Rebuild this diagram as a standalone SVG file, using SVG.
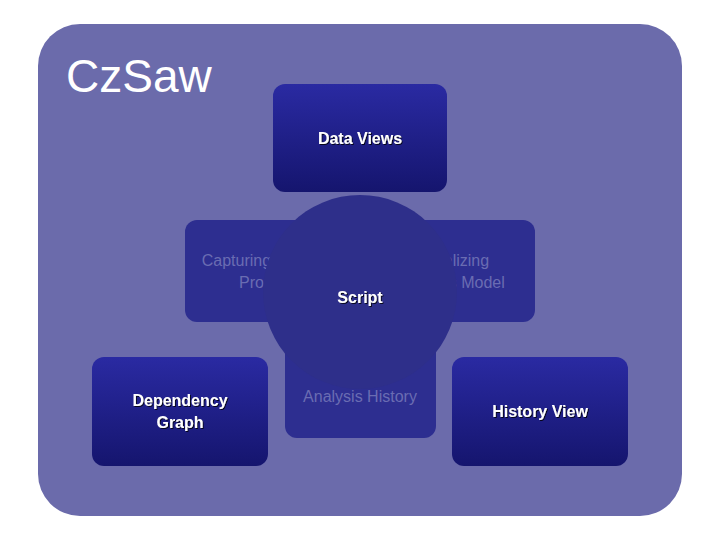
<svg xmlns="http://www.w3.org/2000/svg" width="720" height="540" viewBox="0 0 720 540">
<defs>
<linearGradient id="g" x1="0" y1="0" x2="0" y2="1"><stop offset="0" stop-color="#2a2aa2"/><stop offset="1" stop-color="#15156e"/></linearGradient>
<filter id="sh"><feDropShadow dx="1" dy="1" stdDeviation="0.6" flood-color="#000" flood-opacity="0.8"/></filter>
</defs>
<style>
.f{fill:url(#g)}
.b{fill:#2d2e90}
.t{font-family:"Liberation Sans",Arial,sans-serif;font-size:16px;font-weight:bold;fill:#fff;text-anchor:middle;filter:url(#sh)}
.d{font-family:"Liberation Sans",Arial,sans-serif;font-size:16px;fill:#6a6cb2;text-anchor:middle}
</style>
<rect width="720" height="540" fill="#fff"/>
<rect x="38" y="24" width="644" height="492" rx="42" fill="#6b6bab"/>
<text x="66" y="92" font-family="Liberation Sans,Arial,sans-serif" font-size="46" fill="#fff">Cz<tspan>Saw</tspan></text>
<g id="capturing"><rect class="b" x="185" y="220" width="175" height="102" rx="12"/><text class="d" x="268" y="266">Capturing Analysis</text><text class="d" x="268" y="288">Process</text></g>
<g id="visualizing"><rect class="b" x="360" y="220" width="175" height="102" rx="12"/><text class="d" x="451" y="266">Visualizing</text><text class="d" x="451" y="288">Analysis Model</text></g>
<g id="history"><rect class="b" x="285" y="340" width="151" height="98" rx="12"/><text class="d" x="360" y="402">Analysis History</text></g>
<g id="script"><circle cx="360" cy="292" r="97" fill="#2e2f8a"/><text class="t" x="360" y="303">Script</text></g>
<g id="dataviews"><rect class="f" x="273" y="84" width="174" height="108" rx="12"/><text class="t" x="360" y="144">Data Views</text></g>
<g id="dependency"><rect class="f" x="92" y="357" width="176" height="109" rx="12"/><text class="t" x="180" y="406">Dependency</text><text class="t" x="180" y="428">Graph</text></g>
<g id="historyview"><rect class="f" x="452" y="357" width="176" height="109" rx="12"/><text class="t" x="540" y="417">History View</text></g>
<g id="connectors"/>
</svg>
